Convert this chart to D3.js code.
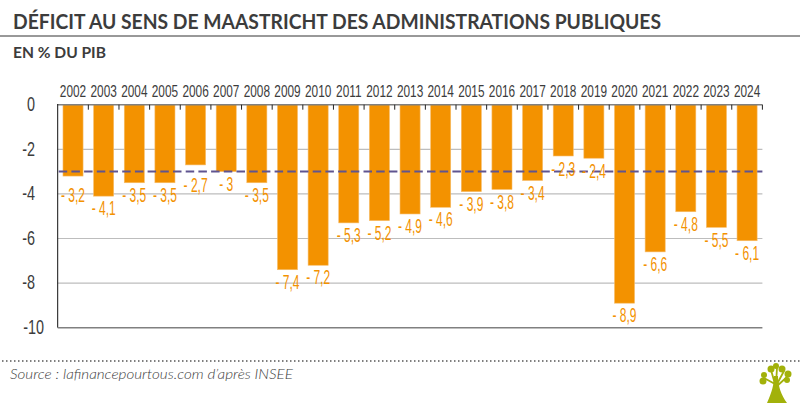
<!DOCTYPE html>
<html><head><meta charset="utf-8">
<script src="https://cdnjs.cloudflare.com/ajax/libs/d3/7.8.5/d3.min.js"></script>
<style>html,body{margin:0;padding:0;background:#fff}svg{display:block}</style></head><body>
<svg id="c" width="800" height="403"></svg>
<script>
const years = ["2002","2003","2004","2005","2006","2007","2008","2009","2010","2011","2012","2013","2014","2015","2016","2017","2018","2019","2020","2021","2022","2023","2024"];
const deficit = [-3.2,-4.1,-3.5,-3.5,-2.7,-3,-3.5,-7.4,-7.2,-5.3,-5.2,-4.9,-4.6,-3.9,-3.8,-3.4,-2.3,-2.4,-8.9,-6.6,-4.8,-5.5,-6.1];
const yTicks = [0,-2,-4,-6,-8,-10];
const threshold = -3;
const title = "DÉFICIT AU SENS DE MAASTRICHT DES ADMINISTRATIONS PUBLIQUES";
const subtitle = "EN % DU PIB";
const source = "Source : lafinancepourtous.com d’après INSEE";

const svg = d3.select("#c");
const narrow = "'Liberation Sans',sans-serif";
const humanist = "Lato,'Open Sans',sans-serif";
const ink = "#3c3c3c", orange = "#f39200";
const x = d3.scaleBand().domain(years).range([57.7,762.4]).paddingInner(0.345).paddingOuter(0.1725);
const y = d3.scaleLinear().domain([0,-10]).range([104.7,327.7]);

function fit(sel,w){sel.attr("textLength",w).attr("lengthAdjust","spacingAndGlyphs");return sel;}
const squeeze = (px,py,k) => `translate(${px},${py}) scale(${k},1)`;

fit(svg.append("text").attr("x",13).attr("y",29).attr("font-family",humanist).attr("font-size",20).attr("font-weight",700).attr("fill",ink).text(title),648);
svg.append("line").attr("x1",0).attr("x2",800).attr("y1",36).attr("y2",36).attr("stroke","#333").attr("stroke-width",1);
fit(svg.append("text").attr("x",13).attr("y",58).attr("font-family",humanist).attr("font-size",15).attr("font-weight",700).attr("fill",ink).text(subtitle),93);

// gridlines
svg.append("g").selectAll("line").data(yTicks.filter(d=>d!==0&&d!==-10)).join("line")
  .attr("x1",x.range()[0]).attr("x2",x.range()[1]).attr("y1",y).attr("y2",y)
  .attr("stroke","#bdbdbd").attr("stroke-width",1.2);

// y labels
svg.append("g").selectAll("text").data(yTicks).join("text")
  .attr("transform",d=>squeeze(d===-10?44:35,y(d)-1,0.72)).attr("dy","0.36em").attr("text-anchor","end")
  .attr("font-family",narrow).attr("font-size",20).attr("fill",ink)
  .text(d=>d);

// bars
svg.append("g").selectAll("rect").data(deficit).join("rect")
  .attr("x",(d,i)=>x(years[i])).attr("width",x.bandwidth())
  .attr("y",y(0)).attr("height",d=>y(d)-y(0)).attr("fill",orange)
  .attr("stroke","#f7bd6b").attr("stroke-width",0.6);

// top axis
const axisTop = d3.axisTop(x).tickSize(0).tickPadding(8);
const gx = svg.append("g").attr("transform",`translate(0,${y(0)})`).call(axisTop);
gx.select(".domain").remove();
gx.selectAll("text").attr("font-family",narrow).attr("font-size",16).attr("fill",ink).attr("transform","scale(0.74,1)");
svg.append("line").attr("x1",x.range()[0]).attr("x2",x.range()[1]).attr("y1",y(0)).attr("y2",y(0)).attr("stroke","#808080").attr("stroke-width",1.5);
svg.append("g").selectAll("line").data(years).join("line")
  .attr("x1",d=>x(d)+x.step()-x.step()*0.1725).attr("x2",d=>x(d)+x.step()-x.step()*0.1725)
  .attr("y1",y(0)).attr("y2",y(0)+5).attr("stroke","#222").attr("stroke-width",1);

// axes lines
svg.append("line").attr("x1",x.range()[0]).attr("x2",x.range()[0]).attr("y1",y(0)-0.7).attr("y2",y(-10)).attr("stroke","#111").attr("stroke-width",1);
svg.append("line").attr("x1",x.range()[0]).attr("x2",x.range()[1]).attr("y1",y(-10)).attr("y2",y(-10)).attr("stroke","#808080").attr("stroke-width",1.5);

// threshold
svg.append("line").attr("x1",x.range()[0]+1).attr("x2",x.range()[1]).attr("y1",y(threshold)).attr("y2",y(threshold))
  .attr("stroke","#5f5490").attr("stroke-width",2).attr("stroke-dasharray","8.5,4.2");

// value labels
const fmt = d => "- " + String(Math.abs(d)).replace(".",",");
const labelShift = new Map([["2002",7],["2006",8],["2018",1],["2019",1]]);
svg.append("g").selectAll("text").data(deficit).join("text")
  .attr("transform",(d,i)=>squeeze(x(years[i])+x.bandwidth()/2,y(d)+12+(labelShift.get(years[i])||0),0.6))
  .attr("text-anchor","middle").attr("dy","0.36em")
  .attr("font-family",narrow).attr("font-size",20).attr("fill",orange).text(fmt);

// dotted rule
svg.append("line").attr("x1",2).attr("x2",800).attr("y1",361).attr("y2",361).attr("stroke","#555").attr("stroke-width",1.5).attr("stroke-dasharray","1.5,2.5");
fit(svg.append("text").attr("x",10).attr("y",379).attr("font-family",humanist).attr("font-size",14).attr("font-weight",300).attr("font-style","italic").attr("fill",ink).text(source),283);

// logo
const logo = svg.append("g").attr("fill","#a2b10a");
logo.append("path").attr("d","M767 403 C772 392 774 384 774 376 L778 376 C778 386 781 395 787 403 Z");
[[763,381,3.5],[764,375,3],[771,369,3.5],[776,366,3],[782,369,3.5],[788,374,3.5],[787,380,3]].forEach(c=>logo.append("circle").attr("cx",c[0]).attr("cy",c[1]).attr("r",c[2]));
logo.append("path").attr("d","M775 384 L764 378 M775 384 L771 370 M776 384 L777 368 M777 384 L784 371 M777 386 L787 377").attr("stroke","#a2b10a").attr("stroke-width",1.8).attr("fill","none");
</script></body></html>
